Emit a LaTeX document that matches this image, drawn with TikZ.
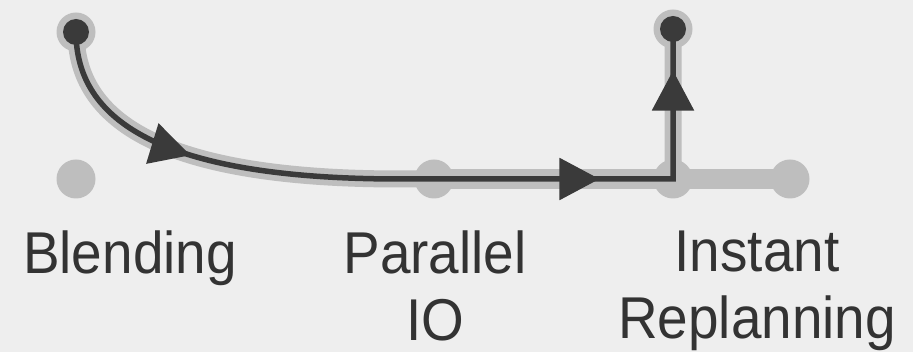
\documentclass[tikz,border=0pt]{standalone}
\usepackage{fontspec}
\setmainfont{Liberation Sans}[FakeStretch=0.93]
\usepackage{xcolor}
\usetikzlibrary{arrows.meta,decorations.markings}

\definecolor{bgGray}{HTML}{EEEEEE}
\definecolor{trackGray}{HTML}{BEBEBE}
\definecolor{routeDark}{HTML}{3A3A3A}
\definecolor{labelDark}{HTML}{333333}

\begin{document}
\begin{tikzpicture}[x=1pt,y=-1pt,
  track/.style={draw=trackGray,line width=20pt},
  halo/.style={draw=trackGray,line width=17pt},
  route/.style={draw=routeDark,line width=5.5pt},
  stop/.style={circle,fill=trackGray,minimum size=39pt,inner sep=0pt},
  label/.style={anchor=north,inner sep=0pt,align=center,text=labelDark,
    font=\fontsize{59pt}{67pt}\selectfont}]
 \fill[bgGray] (0,0) rectangle (913,352);
 \useasboundingbox (0,0) rectangle (913,352);

 % track and stops
 \draw[track] (434,179) -- (790,179);
 \node[stop] (blend) at (76,179) {};
 \node[stop] (parallel) at (434,179) {};
 \node[stop] (replan) at (673,179) {};
 \node[stop] (tail) at (790,179) {};
 \node[stop] (start) at (76,32) {};
 \node[stop] (finish) at (673,29) {};
 \coordinate (join) at (400,179);

 % route
 \draw[halo] (start.center) .. controls (76,120) and (160,179) .. (join)
   -- (replan.center) -- (finish.center);
 \draw[route,decoration={markings,
     mark=at position 182pt with {\arrow{Triangle[length=40pt,width=41pt]}},
     mark=at position 593pt with {\arrow{Triangle[length=40pt,width=41pt]}},
     mark=at position 775pt with {\arrow{Triangle[length=40pt,width=41pt]}}},
   postaction={decorate}]
   (start.center) .. controls (76,120) and (160,179) .. (join)
   -- (replan.center) -- (finish.center);
 \fill[routeDark] (start) circle (13pt);
 \fill[routeDark] (finish) circle (13pt);

 % labels
 \node[label] (blendtext) at (130,231) {Blending};
 \node[label] (paralleltext) at (435,231) {Parallel\\IO};
 \node[label] (replantext) at (757,231) {Instant\\Replanning};
\end{tikzpicture}
\end{document}
